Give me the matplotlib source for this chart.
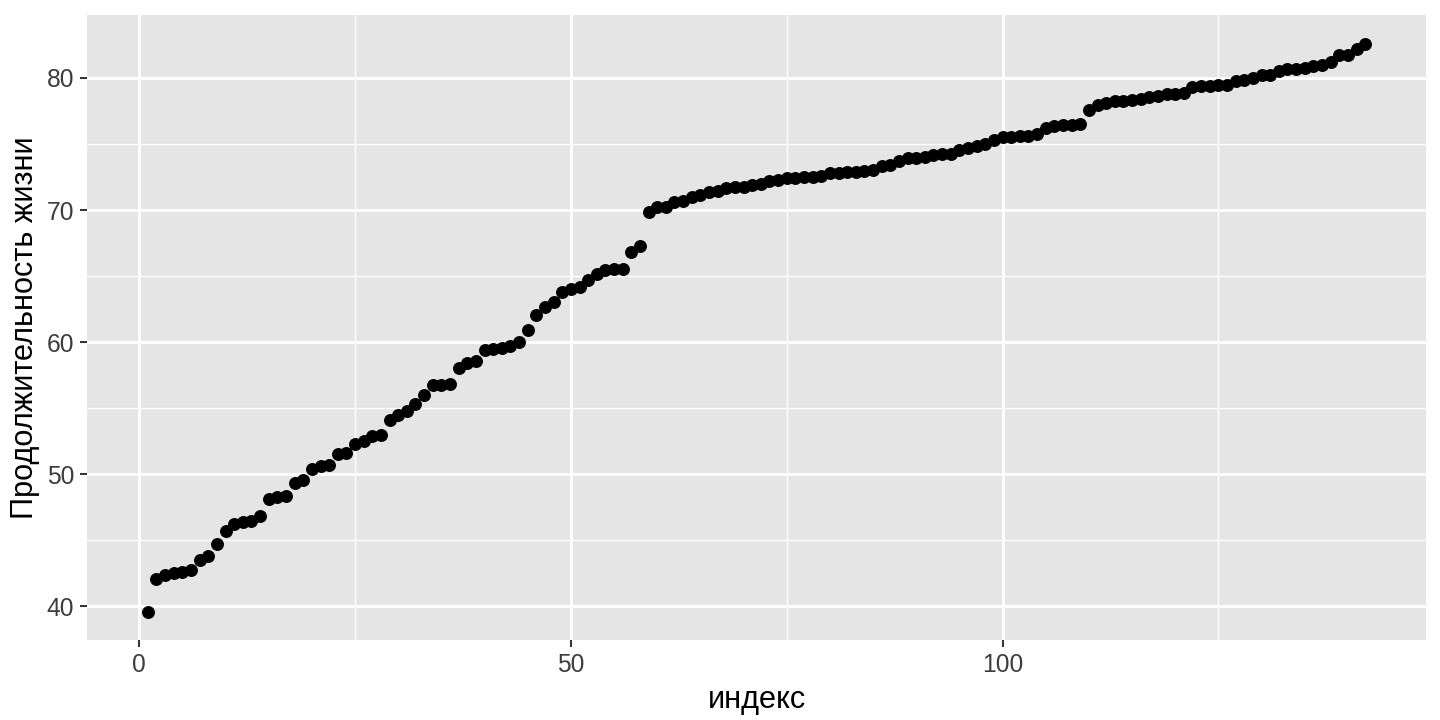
import numpy as np
import matplotlib.pyplot as plt

plt.rcParams['font.family'] = ['Liberation Sans', 'DejaVu Sans']

# sorted life expectancy values
life_exp = [
    39.613, 42.082, 42.384, 42.568, 42.592, 42.731, 43.487, 43.828, 44.741, 45.678,
    46.242, 46.388, 46.462, 46.859, 48.159, 48.303, 48.328, 49.339, 49.58, 50.43,
    50.651, 50.728, 51.542, 51.579, 52.295, 52.517, 52.906, 52.947, 54.11, 54.467,
    54.791, 55.322, 56.007, 56.728, 56.735, 56.867, 58.04, 58.42, 58.556, 59.443,
    59.448, 59.545, 59.723, 60.022, 60.916, 62.069, 62.698, 63.062, 63.785, 64.062,
    64.164, 64.698, 65.152, 65.483, 65.528, 65.554, 66.803, 67.297, 69.819, 70.198,
    70.259, 70.616, 70.65, 70.964, 71.164, 71.338, 71.421, 71.688, 71.752, 71.777,
    71.878, 71.993, 72.235, 72.301, 72.39, 72.396, 72.476, 72.535, 72.567, 72.777,
    72.801, 72.889, 72.899, 72.961, 73.005, 73.338, 73.422, 73.747, 73.923, 73.952,
    74.002, 74.143, 74.241, 74.249, 74.543, 74.663, 74.852, 74.994, 75.32, 75.537,
    75.563, 75.635, 75.64, 75.748, 76.195, 76.384, 76.423, 76.442, 76.486, 77.588,
    77.926, 78.098, 78.242, 78.273, 78.332, 78.4, 78.553, 78.623, 78.746, 78.782,
    78.885, 79.313, 79.406, 79.425, 79.441, 79.483, 79.762, 79.829, 79.972, 80.196,
    80.204, 80.546, 80.653, 80.657, 80.745, 80.884, 80.941, 81.235, 81.701, 81.757,
    82.208, 82.603,
]
index = np.arange(1, len(life_exp) + 1)

x_ticks = [0, 50, 100]
y_ticks = [40, 50, 60, 70, 80]
x_minor = [25, 75, 125]
y_minor = [45, 55, 65, 75]

fig = plt.figure(figsize=(10, 5), dpi=144)
ax = fig.add_axes([0.0604, 0.1111, 0.9299, 0.8679])
ax.set_facecolor('#e5e5e5')

# ggplot-like expansion of 5%
xr = index.max() - index.min()
ax.set_xlim(index.min() - 0.05 * xr, index.max() + 0.05 * xr)
yr = max(life_exp) - min(life_exp)
ax.set_ylim(min(life_exp) - 0.05 * yr, max(life_exp) + 0.05 * yr)

for v in x_minor:
    ax.axvline(v, color='white', lw=0.7, zorder=0)
for v in y_minor:
    ax.axhline(v, color='white', lw=0.7, zorder=0)
for v in x_ticks:
    ax.axvline(v, color='white', lw=1.4, zorder=0)
for v in y_ticks:
    ax.axhline(v, color='white', lw=1.4, zorder=0)

ax.scatter(index, life_exp, s=42, color='black', linewidths=0, zorder=3)

ax.set_xticks(x_ticks)
ax.set_yticks(y_ticks)
ax.tick_params(axis='both', length=3.5, width=1.0, color='#333333',
               labelsize=12.3, labelcolor='#3d3d3d', pad=3)
for s in ax.spines.values():
    s.set_visible(False)

ax.set_xlabel('индекс', fontsize=15.4, color='black', labelpad=4)
ax.set_ylabel('Продолжительность жизни', fontsize=15.4, color='black', labelpad=3)

fig.savefig('out.png', dpi=144)
